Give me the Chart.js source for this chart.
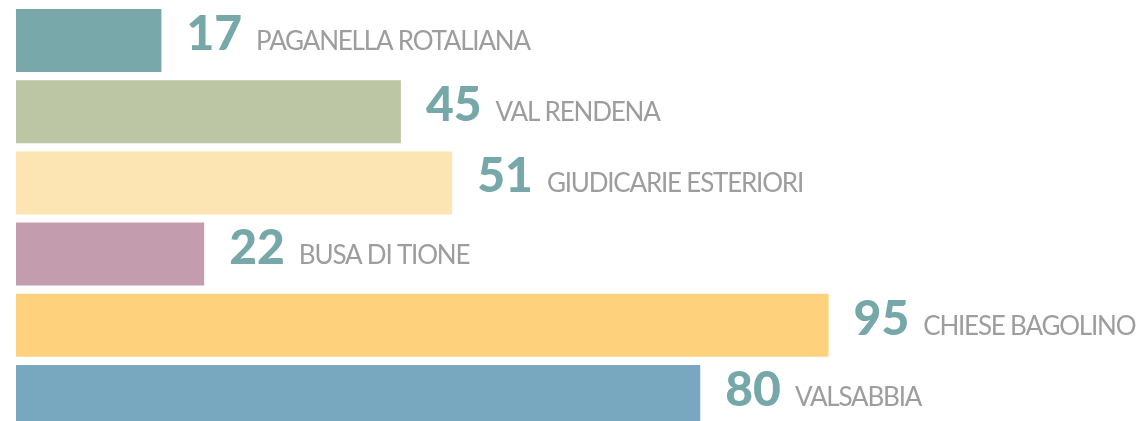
<!DOCTYPE html>
<html>
<head>
<meta charset="utf-8">
<script src="https://cdn.jsdelivr.net/npm/chart.js@4/dist/chart.umd.min.js"></script>
<style>
  html, body { margin: 0; padding: 0; background: #ffffff; overflow: hidden; width: 1145px; height: 421px; }
  #wrap { width: 1145px; height: 440px; }
</style>
</head>
<body>
<div id="wrap"><canvas id="c" width="1145" height="440"></canvas></div>
<script>
const categories = ["PAGANELLA ROTALIANA", "VAL RENDENA", "GIUDICARIE ESTERIORI", "BUSA DI TIONE", "CHIESE BAGOLINO", "VALSABBIA"];
const values = [17, 45, 51, 22, 95, 80];
const barColors = ["#78a8a9", "#bdc6a4", "#fde4b3", "#c39dad", "#fed17d", "#77a8c0"];

const labelPlugin = {
  id: 'barLabels',
  afterDatasetsDraw(chart) {
    const ctx = chart.ctx;
    const meta = chart.getDatasetMeta(0);
    ctx.save();
    ctx.textBaseline = 'alphabetic';
    ctx.textAlign = 'left';
    meta.data.forEach((bar, i) => {
      const x = bar.x + 25;
      const base = bar.y + 9.5;
      ctx.letterSpacing = '0px';
      ctx.font = '900 48px Lato';
      ctx.fillStyle = '#76a8a9';
      const num = String(values[i]);
      ctx.fillText(num, x, base);
      const w = ctx.measureText(num).width;
      ctx.font = '400 26px Lato';
      ctx.letterSpacing = '-1.2px';
      ctx.fillStyle = '#9d9d9d';
      ctx.fillText(categories[i], x + w + 14, base);
    });
    ctx.restore();
  }
};

new Chart(document.getElementById('c'), {
  type: 'bar',
  data: {
    labels: categories,
    datasets: [{
      data: values,
      backgroundColor: barColors,
      borderWidth: 0,
      barPercentage: 0.885,
      categoryPercentage: 1.0
    }]
  },
  options: {
    indexAxis: 'y',
    responsive: false,
    animation: false,
    layout: { padding: { left: 16, right: 0, top: 5, bottom: 8 } },
    plugins: { legend: { display: false }, tooltip: { enabled: false } },
    scales: {
      x: { display: false, min: 0, max: 132 },
      y: { display: false }
    }
  },
  plugins: [labelPlugin]
});
</script>
</body>
</html>
